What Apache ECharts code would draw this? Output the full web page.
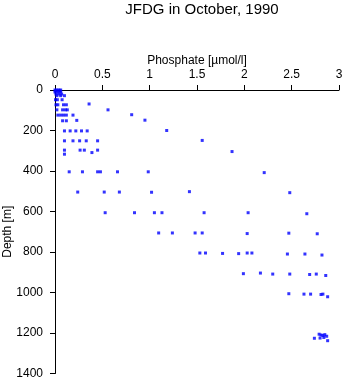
<!DOCTYPE html>
<html>
<head>
<meta charset="utf-8">
<script src="https://cdn.jsdelivr.net/npm/echarts@6/dist/echarts.min.js"></script>
<style>
html,body{margin:0;padding:0;background:#fff;}
#chart{width:345px;height:384px;}
</style>
</head>
<body>
<div id="chart"></div>
<script>
const titleText = "JFDG in October, 1990";
const xName = "Phosphate [µmol/l]";
const yName = "Depth [m]";
const xTicks = [0, 0.5, 1, 1.5, 2, 2.5, 3];
const yTicks = [0, 200, 400, 600, 800, 1000, 1200, 1400];

// Phosphate (µmol/l) and depth (m), paired by index
const phosphate = [
  0.00, 0.02, 0.04, 0.06,
  0.01, 0.05,
  0.00, 0.03, 0.06,
  0.01, 0.04, 0.07,
  0.02, 0.06, 0.10,
  0.005, 0.025, 0.075,
  0.36,
  0.01, 0.03, 0.09, 0.12,
  0.56, 0.02, 0.08, 0.11, 0.13,
  0.81,
  0.03, 0.06, 0.09, 0.12, 0.19,
  0.95, 0.08, 0.12, 0.23,
  0.10, 0.16, 0.22, 0.28, 0.34, 1.18,
  0.10, 0.19, 0.26, 0.33, 0.45, 1.555,
  0.10, 0.265, 0.31, 0.45, 1.87, 0.39, 0.10,
  0.15, 0.29, 0.45, 0.48, 0.66, 0.985, 2.21,
  0.24, 0.52, 0.68, 1.02, 1.42, 2.48,
  0.53, 0.84, 1.05, 1.13, 1.575, 2.04, 2.66,
  1.095, 1.24, 1.48, 1.555, 2.03, 2.47, 2.77,
  1.53, 1.59, 1.77, 1.94, 2.03, 2.08, 2.455, 2.64, 2.82,
  1.99, 2.17, 2.30, 2.48, 2.69, 2.76, 2.86,
  2.47, 2.63, 2.70, 2.81, 2.83, 2.88,
  2.79, 2.81, 2.83, 2.85, 2.87, 2.80, 2.84, 2.74, 2.88
];
const depth = [
  0, 0, 0, 0,
  5, 5,
  10, 10, 10,
  20, 20, 20,
  28, 28, 28,
  48, 48, 48,
  69,
  73, 73, 73, 73,
  98, 98, 98, 98, 98,
  122,
  124, 124, 124, 124, 124,
  149, 152, 152, 150,
  202, 202, 202, 202, 202, 200,
  251, 251, 251, 251, 251, 249,
  297, 297, 297, 297, 304, 309, 317,
  404, 404, 404, 404, 404, 404, 408,
  504, 504, 504, 505, 502, 507,
  606, 606, 606, 606, 606, 606, 611,
  706, 706, 706, 706, 709, 707, 710,
  805, 805, 807, 808, 805, 805, 810, 810, 815,
  907, 904, 909, 909, 911, 909, 916,
  1006, 1008, 1008, 1010, 1008, 1021,
  1206, 1210, 1212, 1208, 1216, 1225, 1222, 1226, 1238
];

const points = phosphate.map((v, i) => [v, depth[i]]);
const font = "'Liberation Sans', Arial, sans-serif";

const chart = echarts.init(document.getElementById('chart'), null, {renderer: 'canvas'});
chart.setOption({
  animation: false,
  backgroundColor: '#ffffff',
  title: {
    text: titleText,
    left: 197,
    top: -3,
    textAlign: 'center',
    textStyle: {fontFamily: font, fontSize: 15, fontWeight: 'normal', color: '#000'}
  },
  grid: {left: 55, right: 6, top: 90, bottom: 10.5, containLabel: false, outerBoundsMode: 'none'},
  xAxis: {
    type: 'value',
    position: 'top',
    min: xTicks[0],
    max: xTicks[xTicks.length - 1],
    interval: 0.5,
    name: xName,
    nameLocation: 'middle',
    nameGap: 23,
    nameMoveOverlap: false,
    nameTextStyle: {fontFamily: font, fontSize: 12, color: '#000'},
    axisLine: {show: true, onZero: false, lineStyle: {color: '#000', width: 1}},
    axisTick: {show: true, length: 5, lineStyle: {color: '#000'}},
    axisLabel: {fontFamily: font, fontSize: 12, color: '#000', margin: 9, formatter: v => String(v)},
    splitLine: {show: false}
  },
  yAxis: {
    type: 'value',
    inverse: true,
    min: yTicks[0],
    max: yTicks[yTicks.length - 1],
    interval: 200,
    name: yName,
    nameLocation: 'middle',
    nameGap: 41,
    nameRotate: 90,
    nameMoveOverlap: false,
    nameTextStyle: {fontFamily: font, fontSize: 12, color: '#000'},
    axisLine: {show: true, onZero: false, lineStyle: {color: '#000', width: 1}},
    axisTick: {show: true, length: 5, lineStyle: {color: '#000'}},
    axisLabel: {fontFamily: font, fontSize: 12, color: '#000', margin: 12, formatter: v => String(v)},
    splitLine: {show: false}
  },
  series: [{
    type: 'scatter',
    data: points,
    symbol: 'rect',
    symbolSize: 3,
    itemStyle: {color: '#0000ff'}
  }]
});
</script>
</body>
</html>
